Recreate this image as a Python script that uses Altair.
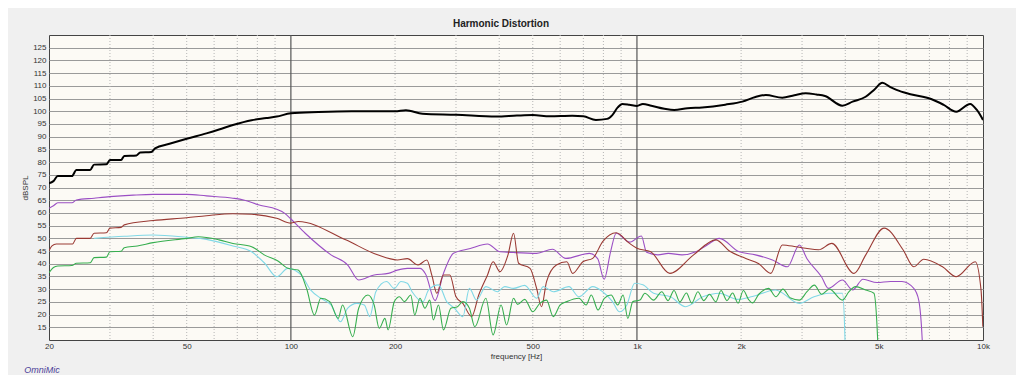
import altair as alt
import pandas as pd

# ---- data ----
black_f = [20, 20.6, 21.2, 23.3, 24.0, 26.3, 27.0, 29.3, 30.0, 32.3, 33.0, 35.8, 36.7, 39.5, 40.5, 44.6, 50, 57, 62, 68, 77, 85, 91, 100, 120, 150, 200, 215, 240, 300, 392, 450, 500, 560, 650, 700, 761, 820, 849, 880, 907, 950, 1000, 1040, 1100, 1200, 1281, 1400, 1543, 1800, 2017, 2200, 2357, 2631, 2850, 3074, 3300, 3494, 3921, 4200, 4580, 4850, 5118, 5400, 5625, 6170, 7080, 7700, 8370, 9180, 9600, 10000]
black_db = [71.7, 72.5, 74.5, 74.5, 76.9, 76.9, 79.0, 79.1, 80.8, 80.8, 82.4, 82.6, 83.8, 84.0, 85.4, 87.2, 89.2, 91.3, 92.8, 94.6, 96.5, 97.3, 97.9, 99.2, 99.7, 100.0, 100.0, 100.4, 99.0, 98.6, 97.9, 98.3, 98.5, 98.0, 98.2, 98.0, 96.6, 97.0, 98.5, 101.5, 102.9, 102.6, 102.1, 102.9, 102.2, 101.0, 100.5, 101.2, 101.5, 102.6, 103.8, 105.6, 106.4, 105.3, 106.3, 107.1, 106.6, 106.0, 102.2, 103.8, 105.7, 108.5, 111.2, 109.5, 108.4, 106.7, 104.8, 102.5, 99.8, 102.9, 100.5, 96.6]

purple_f = [20, 20.6, 21.2, 23.3, 24.0, 27, 30, 35, 40, 50, 57, 68, 73, 81, 91, 96, 100, 110, 130.6, 146, 157, 174, 191, 203, 217, 236, 245, 261, 276, 295, 330, 370, 402, 440, 513, 570, 623, 729, 770, 804, 840, 871, 952, 1030, 1066, 1150, 1232, 1350, 1481, 1600, 1730, 1974, 2200, 2464, 2722, 2946, 3100, 3414, 3575, 3924, 4200, 4500, 4940, 5400, 5830, 6310, 6520, 6670, 6700]
purple_db = [61.8, 62.8, 64.0, 64.0, 65.1, 65.8, 66.4, 67.0, 67.3, 67.3, 66.7, 65.8, 65.1, 63.1, 61.4, 59.8, 57.6, 52.0, 43.5, 39.5, 33.6, 35.6, 36.2, 37.5, 38.2, 38.2, 36.0, 25.5, 36.2, 44.1, 46.0, 47.8, 44.7, 44.4, 44.1, 45.7, 42.1, 44.1, 42.0, 33.9, 45.0, 52.0, 48.5, 50.9, 44.5, 43.5, 44.1, 43.5, 44.7, 47.5, 50.0, 44.7, 43.5, 41.5, 38.8, 47.4, 42.0, 34.9, 30.3, 33.6, 29.7, 33.9, 32.6, 33.0, 33.0, 30.3, 25.7, 10.7, 5.0]

brown_f = [20, 20.4, 21.0, 23.4, 24.0, 26.3, 27.0, 29.3, 30.0, 32.3, 33.0, 40, 50, 57, 68, 77, 91, 100, 105, 144, 178, 203, 217, 233, 247, 256, 264, 276, 288, 300, 314, 333, 349, 370, 384, 402, 424, 440, 455, 491, 513, 530, 548, 585, 627, 652, 698, 745, 796, 871, 952, 1000, 1096, 1245, 1455, 1690, 1850, 2063, 2250, 2437, 2631, 2881, 3074, 3350, 3657, 4240, 4580, 5180, 5880, 6310, 6740, 7640, 8370, 9500, 9870, 9990]
brown_db = [45.1, 47.0, 47.8, 47.8, 50.0, 50.0, 52.0, 52.2, 54.0, 54.3, 55.3, 57.0, 58.1, 58.9, 59.7, 59.5, 57.9, 56.0, 56.6, 49.4, 43.5, 41.5, 42.0, 39.5, 41.5, 35.0, 28.4, 35.6, 35.6, 27.0, 24.4, 19.2, 27.7, 35.6, 40.8, 36.9, 43.5, 52.0, 40.2, 38.2, 30.3, 23.1, 33.0, 39.5, 40.8, 36.2, 40.8, 42.1, 48.7, 52.2, 48.0, 46.1, 44.7, 36.2, 43.4, 49.4, 45.0, 42.1, 40.0, 36.2, 47.4, 46.7, 46.1, 45.5, 48.0, 36.2, 43.4, 54.0, 45.4, 38.8, 41.8, 38.8, 34.9, 40.8, 29.7, 15.2]

cyan_f = [27, 33, 40, 50, 57, 68, 77, 84, 91, 98, 107, 114, 122, 130.6, 139, 146, 155, 163, 169, 176, 189, 199, 208, 217, 224, 241, 250, 267, 282, 297, 314, 328, 344, 366, 395, 415, 440, 474, 513, 536, 573, 636, 680, 745, 796, 850, 889, 935, 985, 1040, 1117, 1250, 1382, 1550, 1730, 1950, 2157, 2514, 2946, 3250, 3575, 3924, 3990, 4000]
cyan_db = [50.0, 50.8, 51.3, 50.4, 49.6, 47.0, 44.7, 40.2, 34.9, 38.2, 35.6, 29.7, 26.4, 23.8, 17.2, 22.5, 24.4, 23.8, 19.2, 29.0, 33.0, 30.3, 33.0, 32.3, 29.0, 25.1, 29.7, 31.7, 25.1, 22.5, 19.2, 30.3, 25.7, 31.0, 29.0, 31.0, 30.3, 31.5, 26.4, 31.0, 29.0, 31.0, 27.0, 31.0, 29.0, 25.1, 21.1, 23.8, 32.3, 31.7, 28.4, 27.0, 23.1, 27.0, 28.4, 26.0, 27.1, 29.7, 24.4, 27.0, 28.4, 28.4, 11.3, 5.0]

green_f = [20, 20.6, 21.2, 23.3, 24.0, 26.3, 27.0, 29.3, 30.0, 32.3, 33.0, 36, 40, 50, 54, 62, 68, 77, 84, 92, 98, 105, 111, 117, 122, 129.5, 137, 141, 151, 157, 167, 174, 180, 187, 191, 199, 206, 213, 222, 228, 236, 244, 252, 258, 267, 276, 290, 303, 314, 328, 340, 366, 384, 405, 420, 440, 452, 474, 500, 524, 548, 573, 600, 627, 680, 713, 738, 772, 805, 842, 880, 912, 941, 973, 1020, 1054, 1117, 1180, 1230, 1280, 1330, 1390, 1440, 1500, 1560, 1620, 1690, 1750, 1820, 1890, 1960, 2030, 2100, 2157, 2250, 2400, 2520, 2640, 2780, 2946, 3100, 3256, 3420, 3600, 3924, 4100, 4280, 4580, 4840, 4960, 4980]
green_db = [36.5, 38.5, 39.1, 39.3, 40.2, 40.4, 42.4, 42.6, 44.7, 44.9, 46.3, 47.0, 48.3, 50.0, 50.6, 49.4, 48.0, 46.7, 43.4, 41.0, 38.2, 37.5, 30.3, 19.8, 26.4, 25.1, 18.5, 23.8, 11.3, 22.5, 27.7, 23.8, 14.6, 18.5, 14.0, 25.1, 27.0, 25.1, 27.7, 19.8, 26.4, 22.5, 25.7, 17.9, 23.8, 14.0, 22.5, 23.1, 25.1, 22.5, 15.2, 26.4, 12.0, 23.8, 15.9, 26.4, 24.0, 26.0, 21.1, 24.4, 25.7, 19.2, 23.8, 25.1, 26.4, 23.8, 27.7, 21.8, 26.4, 27.7, 23.8, 27.7, 18.5, 25.1, 25.7, 28.4, 25.7, 29.0, 25.5, 29.5, 25.0, 28.5, 24.5, 29.0, 25.5, 28.0, 25.0, 29.5, 25.5, 28.5, 24.5, 29.5, 26.0, 24.6, 28.0, 30.3, 27.0, 30.0, 26.5, 25.7, 29.0, 31.6, 28.0, 30.0, 25.7, 29.0, 31.0, 29.7, 28.4, 10.7, 5.0]

x_ticks = [20, 50, 100, 200, 500, 1000, 2000, 5000, 10000]
y_ticks = list(range(15, 130, 5))
minor_grid = [30, 40, 50, 60, 70, 80, 90, 200, 300, 400, 500, 600, 700, 800, 900,
              2000, 3000, 4000, 5000, 6000, 7000, 8000, 9000]
major_grid = [100, 1000]

FONT = "Liberation Sans"

xscale = alt.Scale(type="log", domain=[20, 10000], nice=False)
yscale = alt.Scale(domain=[10, 130], nice=False, zero=False)

x_axis = alt.Axis(
    values=x_ticks, title="frequency [Hz]", grid=False, ticks=False, domain=False,
    labelExpr="datum.value >= 1000 ? (datum.value / 1000) + 'k' : datum.value",
    labelFlush=False, labelOverlap=False, labelPadding=2, labelFontSize=8,
    titleFontSize=8, titleFontWeight="normal", titlePadding=2,
    labelFont=FONT, titleFont=FONT, labelColor="#333", titleColor="#333")
y_axis = alt.Axis(
    values=y_ticks, title="dBSPL", grid=True, gridColor="#9a9a9a", gridWidth=1,
    ticks=False, domain=False, labelPadding=3, labelFontSize=8,
    titleFontSize=8, titleFontWeight="normal", titlePadding=3,
    labelFont=FONT, titleFont=FONT, labelColor="#333", titleColor="#333")

x_enc = alt.X("f:Q", scale=xscale, axis=x_axis)
y_enc = alt.Y("db:Q", scale=yscale, axis=y_axis)


def series(fs, dbs):
    return pd.DataFrame({"f": fs, "db": dbs})


minor = alt.Chart(pd.DataFrame({"f": minor_grid})).mark_rule(
    color="#b5b5b5", strokeWidth=1, strokeDash=[1, 2]
).encode(x=x_enc)

major = alt.Chart(pd.DataFrame({"f": major_grid})).mark_rule(
    color="#555555", strokeWidth=1.2
).encode(x=x_enc)


def line(df, color, width):
    return alt.Chart(df).mark_line(color=color, strokeWidth=width, clip=True,
                                   interpolate="monotone").encode(
        x=x_enc, y=y_enc, order="f:Q")


purple = line(series(purple_f, purple_db), "#9b4fc4", 1.1)
brown = line(series(brown_f, brown_db), "#9a3a34", 1.1)
cyan = line(series(cyan_f, cyan_db), "#80d8e6", 1.1)
green = line(series(green_f, green_db), "#36ae4f", 1.1)
black = line(series(black_f, black_db), "#000000", 2)

brand = alt.Chart(pd.DataFrame({"t": ["OmniMic"]})).mark_text(
    font=FONT, fontSize=9, fontStyle="italic", color="#4c3f99"
).encode(x=alt.value(-7), y=alt.value(335), text="t:N")

chart = alt.layer(minor, major, purple, brown, cyan, green, black, brand).properties(
    width=934, height=305,
    title=alt.TitleParams("Harmonic Distortion", fontSize=10, fontWeight="bold",
                          font=FONT, color="#222", dx=-15, offset=5),
    autosize=alt.AutoSizeParams(type="none"),
    padding={"left": 41, "top": 27, "right": 33, "bottom": 35},
    background="#f0f0f0",
).configure_view(
    fill="#fcfaf5", stroke="#444444", strokeWidth=1
)

chart.save("out.html", embed_options={"renderer": "svg", "actions": False})
